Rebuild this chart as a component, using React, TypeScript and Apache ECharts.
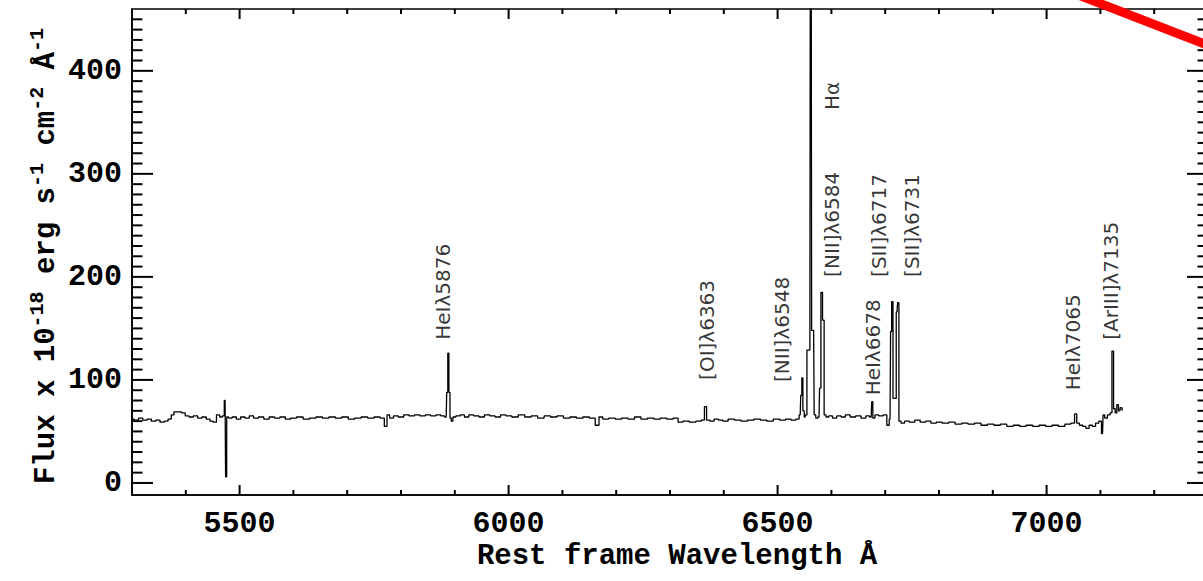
import React, { useEffect, useRef } from "react";
import * as echarts from "echarts";

// Spectrum (rest-frame wavelength in Å, flux in 1e-18 erg/s/cm2/Å)
const wavelengths = [
  5300, 5308, 5316, 5324, 5332, 5340, 5348, 5356, 5364, 5370, 5376, 5380, 5388, 5396, 5402, 5410,
  5418, 5426, 5434, 5442, 5448, 5454, 5460, 5466, 5470, 5473, 5475, 5477, 5482, 5490, 5498, 5506,
  5514, 5522, 5530, 5540, 5550, 5560, 5570, 5580, 5590, 5600, 5612, 5624, 5636, 5648, 5660, 5672,
  5684, 5696, 5708, 5720, 5732, 5744, 5756, 5766, 5772, 5776, 5782, 5790, 5800, 5810, 5820, 5830,
  5840, 5850, 5860, 5870, 5878, 5884, 5886, 5888, 5890, 5892, 5895, 5898, 5906, 5914, 5922, 5930,
  5940, 5950, 5960, 5970, 5980, 5990, 6000, 6012, 6024, 6036, 6048, 6060, 6072, 6084, 6096, 6108,
  6120, 6132, 6144, 6156, 6166, 6170, 6180, 6192, 6204, 6216, 6228, 6240, 6252, 6264, 6276, 6288,
  6300, 6312, 6318, 6330, 6342, 6354, 6362, 6366, 6370, 6378, 6386, 6394, 6402, 6414, 6426, 6438,
  6450, 6462, 6474, 6486, 6498, 6510, 6520, 6530, 6538, 6542, 6544, 6546, 6548, 6551, 6553, 6556,
  6560, 6561.5, 6562.5, 6564, 6567, 6569, 6573, 6577, 6579, 6582, 6585, 6588, 6592, 6598, 6606, 6614,
  6622, 6630, 6640, 6650, 6660, 6668, 6674, 6676, 6678, 6684, 6692, 6700, 6706, 6709, 6711, 6713,
  6716, 6719, 6722, 6724, 6727, 6732, 6740, 6750, 6760, 6770, 6780, 6790, 6800, 6812, 6824, 6836,
  6848, 6860, 6872, 6884, 6896, 6908, 6920, 6932, 6944, 6956, 6968, 6980, 6992, 7004, 7016, 7028,
  7040, 7050, 7054, 7058, 7064, 7070, 7076, 7082, 7088, 7094, 7100, 7104, 7106, 7110, 7116, 7120,
  7123, 7126, 7129, 7132, 7135, 7138, 7142,
];
const fluxValues = [
  62, 61, 63, 61, 62, 60, 61, 59, 60, 62, 66, 69, 69, 68, 65, 64,
  65, 63, 64, 62, 60, 59, 66, 64, 65, 80, 6, 64, 63, 64, 62, 64,
  63, 65, 63, 64, 62, 64, 63, 64, 62, 63, 64, 62, 63, 64, 63, 64,
  63, 64, 62, 63, 64, 63, 64, 63, 55, 66, 63, 65, 64, 66, 65, 66,
  65, 66, 65, 66, 65, 64, 88, 126, 88, 63, 60, 64, 65, 66, 64, 66,
  65, 64, 66, 65, 64, 66, 65, 64, 66, 64, 65, 63, 65, 64, 65, 63,
  64, 63, 64, 63, 56, 64, 62, 63, 62, 63, 62, 64, 62, 63, 62, 63,
  62, 63, 59, 60, 59, 60, 61, 74, 61, 60, 62, 61, 60, 62, 61, 60,
  61, 62, 61, 60, 62, 61, 62, 61, 62, 66, 85, 102, 70, 64, 66, 129,
  129, 520, 520, 148, 148, 66, 63, 64, 92, 185, 158, 66, 64, 65, 63, 65,
  64, 66, 64, 65, 63, 65, 64, 79, 63, 66, 65, 66, 56, 62, 147, 176,
  82, 82, 166, 175, 60, 58, 60, 59, 61, 59, 60, 58, 59, 58, 59, 57,
  58, 57, 58, 56, 57, 56, 57, 55, 56, 55, 56, 55, 56, 55, 56, 55,
  57, 58, 67, 58, 56, 55, 53, 56, 55, 58, 60, 48, 66, 63, 66, 68,
  128, 72, 68, 76, 70, 73, 71,
];

// Emission-line annotations: label text, wavelength of label centre, flux at label base
const lineNames = [
  "HeIλ5876", "[OI]λ6363", "[NII]λ6548", "Hα", "[NII]λ6584",
  "HeIλ6678", "[SII]λ6717", "[SII]λ6731", "HeIλ7065", "[ArIII]λ7135",
];
const lineLabelWave = [5878, 6369, 6508, 6601, 6601, 6677, 6688, 6750, 7049, 7120];
const lineLabelFlux = [139, 100, 98, 362, 200, 85, 200, 200, 90, 139];

// Axis ticks
const xMajorTicks = [5500, 6000, 6500, 7000];
const xMinorTicks = [5400, 5600, 5700, 5800, 5900, 6100, 6200, 6300, 6400, 6600, 6700, 6800, 6900, 7100, 7200];
const yMajorTicks = [0, 100, 200, 300, 400];
const yMinorTicks = [
  10, 20, 30, 40, 50, 60, 70, 80, 90, 110, 120, 130, 140, 150, 160, 170, 180, 190,
  210, 220, 230, 240, 250, 260, 270, 280, 290, 310, 320, 330, 340, 350, 360, 370, 380, 390,
  410, 420, 430, 440, 450,
];

const X_MIN = 5300;
const X_MAX = 7300;
const Y_MIN = -11.7;
const Y_MAX = 460;

const MONO = "'Liberation Mono', 'DejaVu Sans Mono', monospace";
const tickFont = {
  fontFamily: MONO,
  fontWeight: "bold" as const,
  fontSize: 30,
  color: "#000",
};

export default function App() {
  const ref = useRef<HTMLDivElement>(null);
  useEffect(() => {
    if (!ref.current) return;
    const chart = echarts.init(ref.current, undefined, { renderer: "svg" });
    const spectrum = wavelengths.map((w, i) => [w, fluxValues[i]]);
    const labels = lineNames.map((n, i) => ({ name: n, value: [lineLabelWave[i], lineLabelFlux[i]] }));

    // tick items: [side (0 bottom, 1 top, 2 left, 3 right), value, length in px]
    const tickItems: number[][] = [];
    xMajorTicks.forEach((v) => tickItems.push([0, v, 10], [1, v, 10]));
    xMinorTicks.forEach((v) => tickItems.push([0, v, 5], [1, v, 5]));
    yMajorTicks.forEach((v) => tickItems.push([2, v, 21], [3, v, 21]));
    yMinorTicks.forEach((v) => tickItems.push([2, v, 10.5], [3, v, 10.5]));

    chart.setOption({
      animation: false,
      backgroundColor: "#fff",
      grid: {
        left: 132, right: 12, top: 9, bottom: 86, containLabel: false,
        show: true, borderColor: "#000", borderWidth: 1.6, backgroundColor: "transparent",
      },
      xAxis: {
        type: "value",
        min: X_MIN,
        max: X_MAX,
        axisLine: { show: true, onZero: false, lineStyle: { color: "#000", width: 1.6 } },
        axisTick: { show: false },
        axisLabel: { customValues: xMajorTicks, margin: 14, formatter: (v: number) => String(v), ...tickFont },
        splitLine: { show: false },
      },
      yAxis: {
        type: "value",
        min: Y_MIN,
        max: Y_MAX,
        axisLine: { show: true, onZero: false, lineStyle: { color: "#000", width: 1.6 } },
        axisTick: { show: false },
        axisLabel: { customValues: yMajorTicks, margin: 10, formatter: (v: number) => String(v), ...tickFont },
        splitLine: { show: false },
      },
      series: [
        {
          type: "line",
          data: spectrum,
          step: "middle",
          showSymbol: false,
          symbol: "none",
          clip: true,
          lineStyle: { color: "#000", width: 1.3 },
        },
        {
          type: "custom",
          data: tickItems,
          clip: false,
          z: 10,
          renderItem: (_p: any, api: any) => {
            const side = api.value(0);
            const v = api.value(1);
            const len = api.value(2);
            if (side === 0) {
              const p = api.coord([v, Y_MIN]);
              return { type: "line", shape: { x1: p[0], y1: p[1], x2: p[0], y2: p[1] - len }, style: { stroke: "#000", lineWidth: 2 } };
            }
            if (side === 1) {
              const p = api.coord([v, Y_MAX]);
              return { type: "line", shape: { x1: p[0], y1: p[1], x2: p[0], y2: p[1] + len }, style: { stroke: "#000", lineWidth: 2 } };
            }
            if (side === 2) {
              const p = api.coord([X_MIN, v]);
              return { type: "line", shape: { x1: p[0], y1: p[1], x2: p[0] + len, y2: p[1] }, style: { stroke: "#000", lineWidth: 2 } };
            }
            const p = api.coord([X_MAX, v]);
            return { type: "line", shape: { x1: p[0], y1: p[1], x2: p[0] - len, y2: p[1] }, style: { stroke: "#000", lineWidth: 2 } };
          },
        },
        {
          type: "scatter",
          data: labels,
          symbolSize: 1,
          itemStyle: { color: "rgba(0,0,0,0)" },
          clip: false,
          label: {
            show: true,
            formatter: "{b}",
            position: "inside",
            rotate: 90,
            align: "left",
            verticalAlign: "middle",
            fontFamily: "'DejaVu Sans', sans-serif",
            fontSize: 20,
            color: "#000",
          },
        },
      ],
      graphic: [
        {
          type: "text",
          x: 677,
          y: 556,
          style: {
            text: "Rest frame Wavelength Å",
            fontFamily: MONO,
            fontWeight: "bold",
            fontSize: 29,
            fill: "#000",
            align: "center",
            verticalAlign: "middle",
          },
        },
        {
          type: "text",
          x: 44,
          y: 256,
          rotation: Math.PI / 2,
          style: {
            text: "{a|Flux x 10}{s|-18}{a| erg s}{s|-1}{a| cm}{s|-2}{a| Å}{s|-1}",
            align: "center",
            verticalAlign: "middle",
            fill: "#000",
            rich: {
              a: { fontFamily: MONO, fontWeight: "bold", fontSize: 29, lineHeight: 33, verticalAlign: "bottom", fill: "#000" },
              s: { fontFamily: MONO, fontWeight: "bold", fontSize: 20, lineHeight: 20, verticalAlign: "top", fill: "#000" },
            },
          },
        },
        {
          type: "line",
          z: 100,
          shape: { x1: 1068, y1: -9, x2: 1225, y2: 52 },
          style: { stroke: "#ff0000", lineWidth: 9 },
        },
      ],
    });
    return () => chart.dispose();
  }, []);
  return (
    <div style={{ position: "fixed", left: 0, top: 0, width: 1203, height: 581, overflow: "hidden", background: "#fff" }}>
      <div ref={ref} style={{ width: 1220, height: 581 }} />
    </div>
  );
}
